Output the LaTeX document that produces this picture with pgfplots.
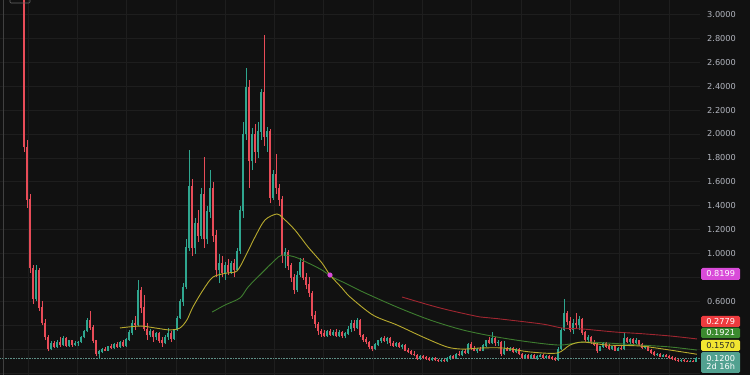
\documentclass[border=0pt]{standalone}
\usepackage{pgfplots}
\pgfplotsset{compat=1.18}
\usepackage{pgfplotstable}
\usepackage{fontspec}
\setmainfont{DejaVu Sans}
\definecolor{bg}{HTML}{111111}
\definecolor{gridc}{HTML}{1E1E1E}
\definecolor{upc}{HTML}{2FA68F}
\definecolor{dnc}{HTML}{E84C58}
\definecolor{ma1}{HTML}{B8AA2E}
\definecolor{ma2}{HTML}{3E7D2F}
\definecolor{ma3}{HTML}{A02630}
\definecolor{lblc}{HTML}{B2B5BE}
\definecolor{magc}{HTML}{D94BD9}
\definecolor{boxr}{HTML}{EE3B3F}
\definecolor{boxg}{HTML}{3B8A2F}
\definecolor{boxy}{HTML}{F2E531}
\definecolor{boxt}{HTML}{52A190}
\definecolor{dotc}{HTML}{5E8E86}
\newcommand{\lbl}{\fontsize{8.2bp}{9.5bp}\selectfont}

% d open high low close
\pgfplotstableread{
d o h l c
0 3.60 3.70 1.85 1.89
1 1.89 1.95 1.38 1.45
2 1.45 1.50 0.84 0.88
3 0.88 0.90 0.58 0.62
4 0.62 0.90 0.60 0.86
5 0.86 0.88 0.52 0.55
6 0.55 0.60 0.40 0.42
7 0.42 0.45 0.28 0.30
8 0.30 0.32 0.18 0.20
9 0.20 0.27 0.19 0.25
10 0.25 0.27 0.21 0.22
11 0.22 0.28 0.21 0.26
12 0.26 0.30 0.22 0.24
13 0.24 0.31 0.23 0.29
14 0.29 0.30 0.22 0.23
15 0.23 0.28 0.22 0.27
16 0.27 0.28 0.22 0.24
17 0.24 0.27 0.23 0.25
18 0.25 0.27 0.23 0.26
19 0.26 0.31 0.25 0.30
20 0.30 0.36 0.29 0.35
21 0.35 0.46 0.34 0.44
22 0.44 0.52 0.36 0.38
23 0.38 0.40 0.25 0.27
24 0.27 0.28 0.14 0.16
25 0.16 0.19 0.12 0.18
26 0.18 0.21 0.17 0.20
27 0.20 0.22 0.18 0.19
28 0.19 0.23 0.18 0.22
29 0.22 0.24 0.20 0.21
30 0.21 0.25 0.20 0.24
31 0.24 0.26 0.21 0.22
32 0.22 0.27 0.21 0.26
33 0.26 0.28 0.22 0.23
34 0.23 0.29 0.22 0.28
35 0.28 0.36 0.27 0.34
36 0.34 0.44 0.32 0.42
37 0.42 0.48 0.36 0.40
38 0.40 0.78 0.39 0.69
39 0.69 0.72 0.50 0.55
40 0.55 0.65 0.35 0.37
41 0.37 0.42 0.28 0.32
42 0.32 0.37 0.30 0.35
43 0.35 0.36 0.26 0.30
44 0.30 0.34 0.28 0.33
45 0.33 0.34 0.25 0.27
46 0.27 0.30 0.22 0.25
47 0.25 0.32 0.24 0.30
48 0.30 0.38 0.28 0.33
49 0.33 0.35 0.26 0.29
50 0.29 0.37 0.28 0.36
51 0.36 0.48 0.35 0.46
52 0.46 0.62 0.45 0.60
53 0.60 0.75 0.56 0.72
54 0.72 1.12 0.70 1.05
55 1.05 1.87 1.02 1.56
56 1.56 1.62 0.98 1.05
57 1.05 1.30 1.00 1.25
58 1.25 1.36 1.10 1.15
59 1.15 1.55 1.12 1.50
60 1.50 1.81 1.05 1.12
61 1.12 1.40 1.08 1.35
62 1.35 1.70 1.30 1.55
63 1.55 1.60 1.10 1.15
64 1.15 1.20 0.80 0.86
65 0.86 1.00 0.75 0.92
66 0.92 0.98 0.80 0.84
67 0.84 0.93 0.78 0.90
68 0.90 0.95 0.82 0.85
69 0.85 0.94 0.83 0.92
70 0.92 0.95 0.80 0.86
71 0.86 1.05 0.85 1.02
72 1.02 1.40 1.00 1.36
73 1.36 2.10 1.30 2.00
74 2.00 2.55 1.95 2.39
75 2.39 2.45 1.55 1.78
76 1.78 2.05 1.70 2.00
77 2.00 2.08 1.76 1.85
78 1.85 2.10 1.80 2.02
79 2.02 2.38 1.95 2.35
80 2.35 2.83 1.90 1.98
81 1.98 2.06 1.85 2.02
82 2.02 2.04 1.42 1.47
83 1.47 1.70 1.45 1.66
84 1.66 1.83 1.50 1.55
85 1.55 1.58 1.40 1.45
86 1.45 1.48 0.92 0.98
87 0.98 1.05 0.88 1.01
88 1.01 1.03 0.86 0.90
89 0.90 0.92 0.76 0.80
90 0.80 0.83 0.66 0.70
91 0.70 0.85 0.68 0.82
92 0.82 0.96 0.80 0.93
93 0.93 0.96 0.78 0.80
94 0.80 0.84 0.70 0.74
95 0.74 0.80 0.64 0.67
96 0.67 0.69 0.45 0.48
97 0.48 0.52 0.38 0.41
98 0.41 0.43 0.32 0.35
99 0.35 0.37 0.30 0.33
100 0.33 0.36 0.30 0.31
101 0.31 0.36 0.30 0.35
102 0.35 0.37 0.31 0.32
103 0.32 0.36 0.31 0.34
104 0.34 0.37 0.30 0.31
105 0.31 0.36 0.30 0.34
106 0.34 0.35 0.29 0.31
107 0.31 0.34 0.29 0.33
108 0.33 0.39 0.32 0.37
109 0.37 0.44 0.34 0.42
110 0.42 0.44 0.35 0.38
111 0.38 0.46 0.37 0.44
112 0.44 0.45 0.30 0.32
113 0.32 0.33 0.26 0.28
114 0.28 0.30 0.24 0.26
115 0.26 0.27 0.20 0.22
116 0.22 0.23 0.18 0.20
117 0.20 0.25 0.19 0.24
118 0.24 0.28 0.23 0.27
119 0.27 0.30 0.25 0.29
120 0.29 0.31 0.26 0.27
121 0.27 0.30 0.24 0.29
122 0.29 0.30 0.23 0.25
123 0.25 0.27 0.22 0.23
124 0.23 0.26 0.22 0.25
125 0.25 0.26 0.21 0.22
126 0.22 0.24 0.20 0.23
127 0.23 0.24 0.18 0.19
128 0.19 0.21 0.17 0.18
129 0.18 0.19 0.15 0.16
130 0.16 0.18 0.14 0.15
131 0.15 0.16 0.11 0.12
132 0.12 0.15 0.11 0.14
133 0.14 0.15 0.12 0.13
134 0.13 0.14 0.11 0.12
135 0.12 0.13 0.10 0.11
136 0.11 0.13 0.10 0.12
137 0.12 0.13 0.10 0.11
138 0.11 0.12 0.09 0.10
139 0.10 0.12 0.09 0.11
140 0.11 0.12 0.09 0.10
141 0.10 0.13 0.09 0.12
142 0.12 0.15 0.11 0.14
143 0.14 0.15 0.12 0.13
144 0.13 0.17 0.12 0.16
145 0.16 0.18 0.14 0.15
146 0.15 0.19 0.14 0.18
147 0.18 0.20 0.16 0.17
148 0.17 0.25 0.16 0.24
149 0.24 0.26 0.19 0.21
150 0.21 0.23 0.18 0.19
151 0.19 0.21 0.17 0.20
152 0.20 0.22 0.18 0.19
153 0.19 0.24 0.18 0.23
154 0.23 0.28 0.22 0.27
155 0.27 0.30 0.24 0.25
156 0.25 0.34 0.24 0.29
157 0.29 0.30 0.23 0.25
158 0.25 0.28 0.23 0.26
159 0.26 0.27 0.14 0.16
160 0.16 0.27 0.15 0.20
161 0.20 0.22 0.18 0.19
162 0.19 0.22 0.18 0.21
163 0.21 0.22 0.17 0.18
164 0.18 0.21 0.17 0.20
165 0.20 0.21 0.15 0.16
166 0.16 0.17 0.12 0.13
167 0.13 0.16 0.12 0.15
168 0.15 0.16 0.12 0.13
169 0.13 0.16 0.12 0.15
170 0.15 0.16 0.12 0.13
171 0.13 0.15 0.11 0.14
172 0.14 0.16 0.13 0.15
173 0.15 0.16 0.12 0.13
174 0.13 0.15 0.12 0.14
175 0.14 0.15 0.12 0.13
176 0.13 0.14 0.11 0.12
177 0.12 0.13 0.10 0.11
178 0.11 0.22 0.10 0.20
179 0.20 0.38 0.19 0.36
180 0.36 0.62 0.35 0.50
181 0.50 0.52 0.40 0.43
182 0.43 0.47 0.34 0.36
183 0.36 0.45 0.33 0.42
184 0.42 0.50 0.38 0.40
185 0.40 0.48 0.36 0.45
186 0.45 0.46 0.32 0.34
187 0.34 0.35 0.26 0.28
188 0.28 0.32 0.25 0.30
189 0.30 0.31 0.24 0.26
190 0.26 0.28 0.23 0.24
191 0.24 0.25 0.17 0.19
192 0.19 0.23 0.18 0.22
193 0.22 0.26 0.21 0.25
194 0.25 0.26 0.21 0.22
195 0.22 0.24 0.19 0.20
196 0.20 0.23 0.19 0.22
197 0.22 0.23 0.18 0.19
198 0.19 0.22 0.18 0.21
199 0.21 0.23 0.19 0.20
200 0.20 0.34 0.19 0.29
201 0.29 0.30 0.25 0.26
202 0.26 0.29 0.24 0.28
203 0.28 0.29 0.24 0.25
204 0.25 0.29 0.24 0.27
205 0.27 0.28 0.23 0.24
206 0.24 0.25 0.20 0.21
207 0.21 0.23 0.20 0.22
208 0.22 0.23 0.18 0.19
209 0.19 0.20 0.16 0.17
210 0.17 0.18 0.14 0.15
211 0.15 0.17 0.14 0.16
212 0.16 0.17 0.13 0.14
213 0.14 0.16 0.13 0.15
214 0.15 0.16 0.13 0.14
215 0.14 0.15 0.12 0.13
216 0.13 0.14 0.11 0.12
217 0.12 0.13 0.10 0.11
218 0.11 0.12 0.09 0.10
219 0.10 0.12 0.09 0.11
220 0.11 0.115 0.09 0.10
221 0.10 0.11 0.09 0.095
222 0.095 0.11 0.09 0.10
223 0.10 0.11 0.09 0.098
224 0.098 0.13 0.095 0.12
}\candles

\begin{document}
\begin{tikzpicture}
\useasboundingbox (0,0) rectangle (750bp,375bp);
\fill[bg] (0,0) rectangle (750bp,375bp);
\begin{axis}[
  at={(0,0)}, anchor=south west,
  scale only axis, width=700bp, height=375bp,
  xmin=-8, xmax=225.33, ymin=-0.0167, ymax=3.1213,
  axis line style={draw=none},
  tick style={draw=none},
  xtick={1.33,17.77,34.2,50.63,67.07,83.5,99.93,116.37,132.8,149.23,165.67,182.1,198.53,214.97},
  xticklabels={},
  ytick={0,0.2,0.4,0.6,0.8,1.0,1.2,1.4,1.6,1.8,2.0,2.2,2.4,2.6,2.8,3.0},
  yticklabels={{},{},{},0.6000,{},1.0000,1.2000,1.4000,1.6000,1.8000,2.0000,2.2000,2.4000,2.6000,2.8000,3.0000},
  yticklabel pos=right,
  yticklabel style={anchor=west, inner sep=0pt, xshift=7bp, text=lblc, font=\lbl},
  grid=major, major grid style={draw=gridc, line width=0.6bp},
  clip=true,
]
% dotted last price line
\addplot[densely dotted, dotc, line width=0.6bp, forget plot] coordinates {(-8,0.12) (225.33,0.12)};
% up wicks
\addplot[upc, line width=0.6bp, forget plot, -,
  restrict expr to domain={\thisrow{c}-\thisrow{o}}{0:100},
  quiver={u=0, v=\thisrow{h}-\thisrow{l}}]
  table[x=d, y=l] {\candles};
% up bodies
\addplot[upc, line width=2.1bp, forget plot, -,
  restrict expr to domain={\thisrow{c}-\thisrow{o}}{0:100},
  quiver={u=0, v=\thisrow{c}-\thisrow{o}+0.004}]
  table[x=d, y expr={\thisrow{o}-0.002}] {\candles};
% down wicks
\addplot[dnc, line width=0.6bp, forget plot, -,
  restrict expr to domain={\thisrow{o}-\thisrow{c}}{0.00001:100},
  quiver={u=0, v=\thisrow{h}-\thisrow{l}}]
  table[x=d, y=l] {\candles};
% down bodies
\addplot[dnc, line width=2.1bp, forget plot, -,
  restrict expr to domain={\thisrow{o}-\thisrow{c}}{0.00001:100},
  quiver={u=0, v=\thisrow{o}-\thisrow{c}+0.004}]
  table[x=d, y expr={\thisrow{c}-0.002}] {\candles};
% moving averages
\addplot[ma3, line width=0.9bp, smooth, forget plot] coordinates {
(126,0.636) (138.7,0.544) (152,0.469) (157.7,0.455) (172.7,0.41) (179.3,0.377) (186.3,0.368) (197,0.343) (205.3,0.33) (215.3,0.31) (224.3,0.285)};
\addplot[ma2, line width=0.9bp, smooth, forget plot] coordinates {
(62.7,0.51) (67,0.569) (72,0.628) (74.7,0.72) (79.3,0.837) (83.7,0.946) (86,0.987) (90.3,0.971) (94.7,0.921) (99.3,0.862) (102.7,0.803) (107,0.753) (113,0.678) (124.3,0.552) (135.3,0.444) (146.3,0.36) (157.7,0.301) (168.7,0.259) (178.7,0.234) (186.3,0.259) (194.3,0.251) (205.3,0.234) (215.3,0.218) (224.3,0.192)};
\addplot[ma1, line width=0.9bp, smooth, forget plot] coordinates {
(32,0.377) (38.7,0.393) (43.7,0.377) (48.7,0.36) (52,0.377) (54.3,0.444) (56.3,0.552) (59.7,0.695) (63,0.803) (67.7,0.837) (71,0.854) (73.7,0.971) (77,1.138) (80.3,1.28) (84.3,1.331) (86.3,1.297) (90.3,1.197) (94.7,1.054) (99.3,0.921) (102,0.82) (106,0.711) (108.7,0.636) (116.3,0.485) (124.3,0.402) (133,0.301) (141,0.218) (146.3,0.20) (152,0.209) (159.7,0.209) (168.7,0.176) (177.7,0.167) (182,0.234) (186.3,0.259) (194.3,0.234) (205.3,0.226) (215.3,0.192) (224.3,0.157)};
% crossing marker
\addplot[only marks, mark=*, mark size=2.3bp, draw=magc, fill=magc, forget plot] coordinates {(102,0.8199)};
\end{axis}
% left panel border and top-left tag
\draw[draw=black!75!white, line width=0.8bp] (3bp,0) -- (3bp,375bp);
\draw[draw=black!60!white, line width=0.6bp, rounded corners=1bp] (10bp,372bp) rectangle (30bp,380bp);
% price labels
\begin{scope}[every node/.style={font=\lbl, inner sep=0pt, minimum width=39bp, rounded corners=1.5bp, anchor=west}]
\node[fill=magc, text=white, minimum height=12bp] at (701bp,101bp) {0.8199};
\node[fill=boxr, text=white, minimum height=11bp] at (701bp,53.5bp) {0.2779};
\node[fill=boxg, text=white, minimum height=10.5bp] at (701bp,42bp) {0.1921};
\node[fill=boxy, text=black!85, minimum height=11bp] at (701bp,29.5bp) {0.1570};
\node[fill=boxt, text=white, minimum height=21bp, align=center] at (701bp,12.5bp) {0.1200\\[-1.5bp]2d 16h};
\end{scope}
\end{tikzpicture}
\end{document}
